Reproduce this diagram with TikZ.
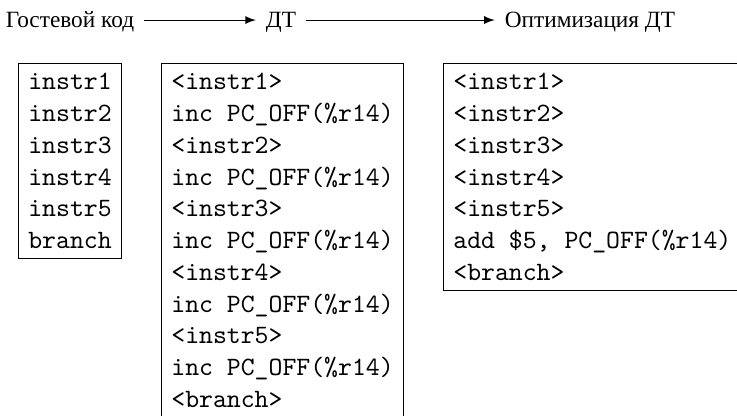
\documentclass[tikz,border=0pt]{standalone}
\usepackage{fontspec}
\newfontfamily\cyrfont{Liberation Serif}
\tikzstyle{codeBox}=[draw, anchor = north west, align = left, inner sep = 3.7pt, font = \ttfamily]
\tikzstyle{stageLabel}=[font = \cyrfont\fontsize{8.8}{10}\selectfont, inner xsep = 3.6pt, text height = 6pt, text depth = 0pt]
\tikzstyle{stageArrow}=[-latex]

\begin{document}
\begin{tikzpicture}
\useasboundingbox (0,0) rectangle (9.785,-5.523);
% Stages
\node[stageLabel] (guest) at (0.929,-0.266) {Гостевой код};
\node[stageLabel] (dt) at (3.731,-0.266) {ДТ};
\node[stageLabel] (opt) at (7.833,-0.266) {Оптимизация ДТ};
\draw[stageArrow] (guest) -- (dt);
\draw[stageArrow] (dt) -- (opt);
% Code
\node[codeBox] (guestCode) at (0.239,-0.836) {instr1\\instr2\\instr3\\instr4\\instr5\\branch};
\node[codeBox] (dtCode) at (2.138,-0.836) {<instr1>\\inc PC\_OFF(\%r14)\\<instr2>\\inc PC\_OFF(\%r14)\\<instr3>\\inc PC\_OFF(\%r14)\\<instr4>\\inc PC\_OFF(\%r14)\\<instr5>\\inc PC\_OFF(\%r14)\\<branch>};
\node[codeBox] (optCode) at (5.882,-0.836) {<instr1>\\<instr2>\\<instr3>\\<instr4>\\<instr5>\\add \$5, PC\_OFF(\%r14)\\<branch>};
\end{tikzpicture}
\end{document}
